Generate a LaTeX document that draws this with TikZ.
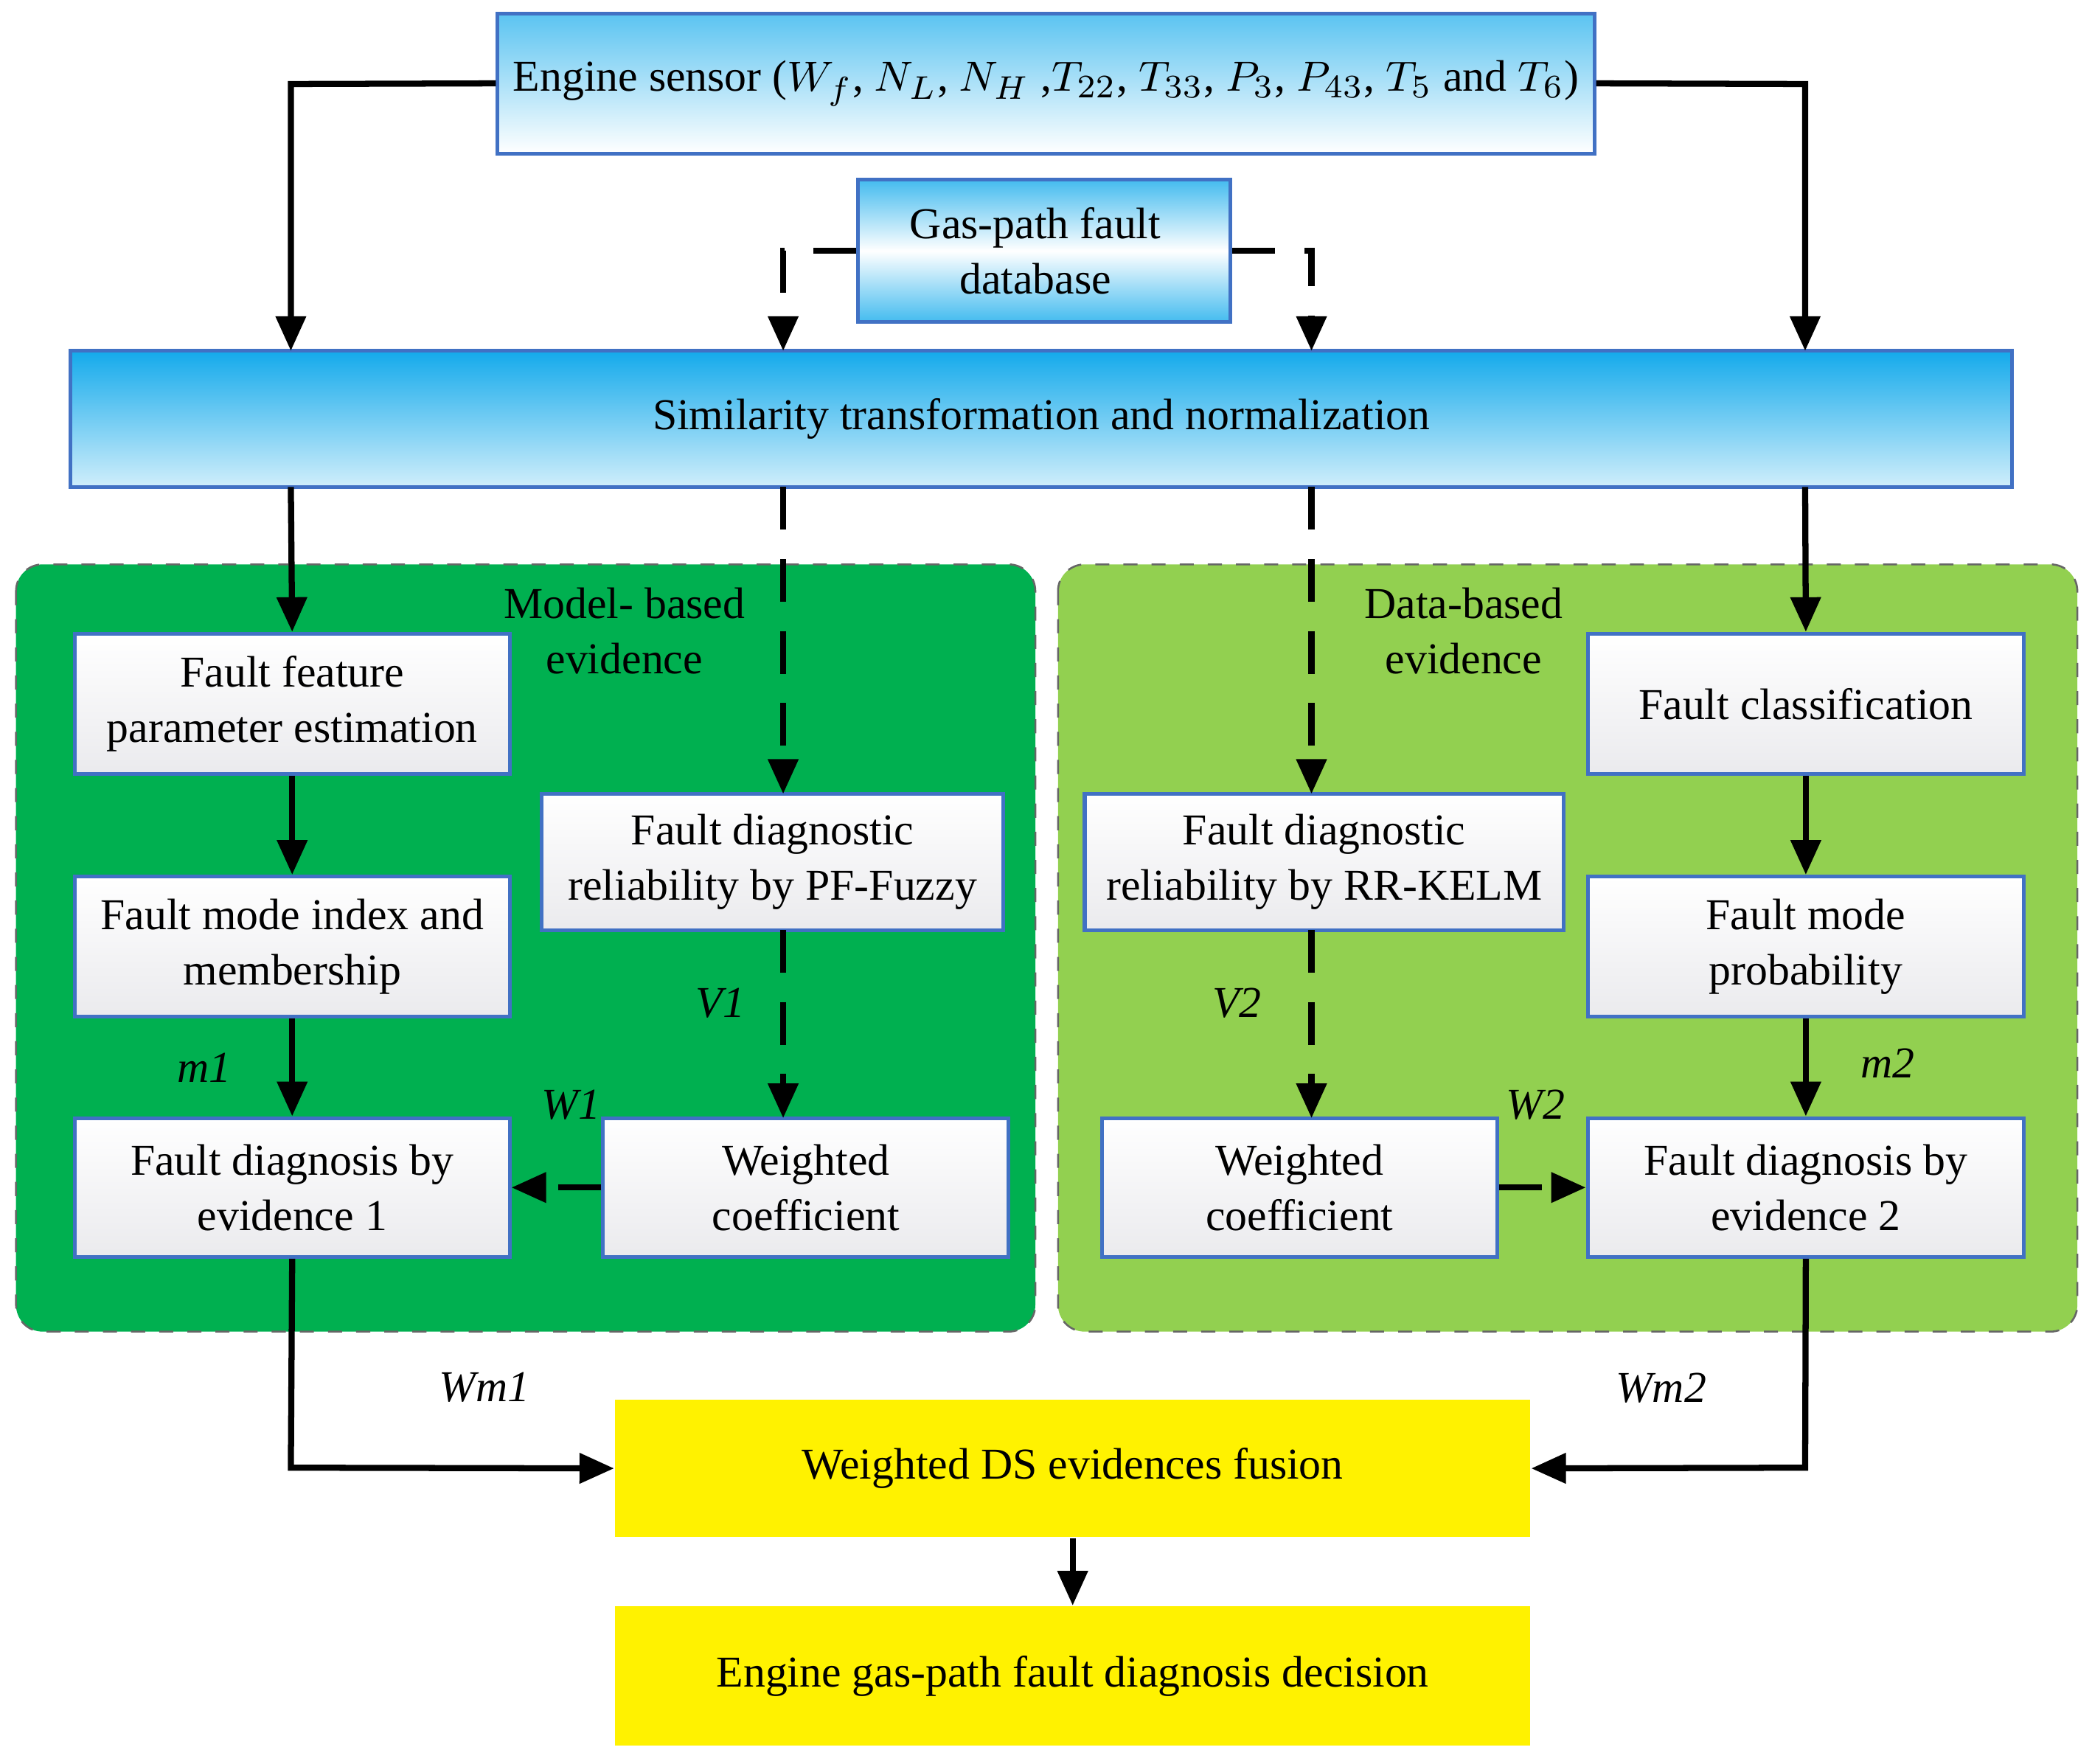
\documentclass[tikz,border=0pt]{standalone}
\usepackage{fontspec}
\setmainfont{Liberation Serif}
\usetikzlibrary{arrows.meta,shapes.geometric}
\definecolor{bord}{RGB}{65,113,196}
\definecolor{sky}{RGB}{20,170,235}
\definecolor{gA}{RGB}{0,176,80}
\definecolor{gB}{RGB}{146,208,80}
\tikzset{
 base/.style={draw=bord,line width=0.8pt,align=center,inner sep=0pt,font=\fontsize{9.4}{11.8}\selectfont},
 box/.style={base,top color=white,bottom color=blue!8!gray!15},
 top/.style={base,top color=sky!70,bottom color=white},
 sim/.style={base,top color=sky,bottom color=sky!20},
 ybox/.style={fill=yellow,align=center,inner sep=0pt,font=\fontsize{9.4}{11.8}\selectfont},
 arr/.style={line width=1.3pt,-{Triangle[length=2.6mm,width=2.2mm]}},
 darr/.style={arr,dash pattern=on 3.2mm off 2.2mm},
 lab/.style={font=\fontsize{9.4}{11.8}\selectfont\itshape},
 panel/.style={rounded corners=2mm,draw=black!60,dashed,line width=0.4pt}
}
\newcommand\bx[6]{\node[#1,minimum width={(#5-#3)*0.1mm},minimum height={(#6-#4)*0.1mm}] (#2) at ({(#3+#5)/2},{(#4+#6)/2})}
\begin{document}
\begin{tikzpicture}[x=0.1mm,y=-0.1mm]
\useasboundingbox (0,0) rectangle (1568,1322);
\fill[white] (0,0) rectangle (1568,1322);
\draw[panel,fill=gA] (12,423) rectangle (776,998);
\draw[panel,fill=gB] (793,423) rectangle (1557,998);
\bx{top}{eng}{373}{10}{1195}{115}{Engine sensor ($W_f$, $N_L$, $N_H$ ,$T_{22}$, $T_{33}$, $P_3$, $P_{43}$, $T_5$ and $T_6$)};
\node[base,cylinder,shape aspect=0.35,minimum width=107*0.1mm,minimum height=279*0.1mm,shading=axis,top color=sky!80,bottom color=sky!80,middle color=white] (db) at (782,188) {};
\node[font=\fontsize{9.4}{11.8}\selectfont,align=center] at (776,188) {Gas-path fault\\database};
\bx{sim}{sim}{53}{263}{1508}{365}{Similarity transformation and normalization};
\bx{box}{ffpe}{56}{475}{382}{580}{Fault feature\\parameter estimation};
\bx{box}{fmim}{56}{657}{382}{762}{Fault mode index and\\membership};
\bx{box}{fde1}{56}{838}{382}{942}{Fault diagnosis by\\evidence 1};
\bx{box}{pf}{406}{595}{752}{697}{Fault diagnostic\\reliability by PF-Fuzzy};
\bx{box}{wc1}{452}{838}{756}{942}{Weighted\\coefficient};
\bx{box}{rr}{813}{595}{1172}{697}{Fault diagnostic\\reliability by RR-KELM};
\bx{box}{wc2}{826}{838}{1122}{942}{Weighted\\coefficient};
\bx{box}{fc}{1190}{475}{1517}{580}{Fault classification};
\bx{box}{fmp}{1190}{657}{1517}{762}{Fault mode\\probability};
\bx{box}{fde2}{1190}{838}{1517}{942}{Fault diagnosis by\\evidence 2};
\bx{ybox}{fus}{461}{1049}{1147}{1152}{Weighted DS evidences fusion};
\bx{ybox}{dec}{461}{1204}{1147}{1308}{Engine gas-path fault diagnosis decision};
\node[font=\fontsize{9.4}{11.8}\selectfont,align=center] at (468,473) {Model- based\\evidence};
\node[font=\fontsize{9.4}{11.8}\selectfont,align=center] at (1097,473) {Data-based\\evidence};
\node[lab] at (540,752) {V1};
\node[lab] at (927,752) {V2};
\node[lab] at (153,800) {m1};
\node[lab] at (428,828) {W1};
\node[lab] at (1151,828) {W2};
\node[lab] at (1415,797) {m2};
\node[lab] at (363,1040) {Wm1};
\node[lab] at (1245,1040) {Wm2};
% arrows
\draw[arr] (eng.west) -- (218,63) -- (218,263);
\draw[arr] (eng.east) -- (1353,63) -- (1353,263);
\draw[darr] (db.bottom) -- (587,188) -- (587,263);
\draw[darr] (db.top) -- (983,188) -- (983,263);
\draw[arr] (218,365) -- (ffpe.north);
\draw[darr] (587,365) -- (587,595);
\draw[darr] (983,365) -- (983,595);
\draw[arr] (1353,365) -- (fc.north);
\draw[arr] (ffpe) -- (fmim);
\draw[arr] (fmim) -- (fde1);
\draw[darr] (587,697) -- (587,838);
\draw[darr] (983,697) -- (983,838);
\draw[arr] (fc) -- (fmp);
\draw[arr] (fmp) -- (fde2);
\draw[darr] (wc1.west) -- (fde1.east);
\draw[darr] (wc2.east) -- (fde2.west);
\draw[arr] (fde1.south) -- (218,1100) -- (fus.west);
\draw[arr] (fde2.south) -- (1353,1100) -- (fus.east);
\draw[arr] (fus) -- (dec);
\end{tikzpicture}
\end{document}
